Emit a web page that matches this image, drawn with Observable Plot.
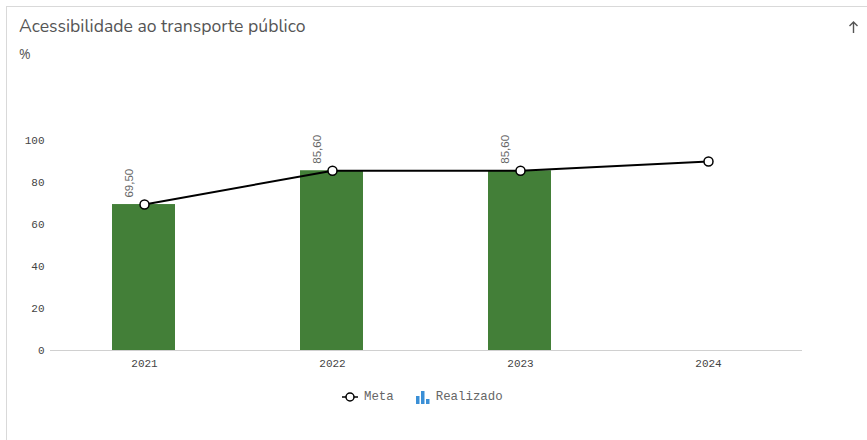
<!DOCTYPE html>
<html>
<head>
<meta charset="utf-8">
<script src="https://cdn.jsdelivr.net/npm/d3@7"></script>
<script src="https://cdn.jsdelivr.net/npm/@observablehq/plot@0.6"></script>
<style>
  html, body { margin: 0; padding: 0; background: #fff; width: 867px; height: 440px; overflow: hidden; }
  #card { position: absolute; left: 6px; top: 6px; width: 900px; height: 500px; border: 1px solid #d9d9d9; box-sizing: border-box; }
  #title { position: absolute; left: 19px; top: 14px; font-family: "Nunito", "Open Sans", sans-serif; font-size: 17.6px; color: #555; }
  #unit { position: absolute; left: 19px; top: 44px; font-family: "Open Sans", sans-serif; font-size: 14px; color: #555; }
  #arrow { position: absolute; left: 848px; top: 20px; }
  #chart { position: absolute; left: 0; top: 120px; }
  #legend { position: absolute; top: 390px; left: 342px; font-family: "Liberation Mono", monospace; font-size: 12.4px; color: #666; display: flex; align-items: center; }
  #legend .item { display: flex; align-items: center; margin-right: 22px; }
  #legend svg { margin-right: 6px; }
</style>
</head>
<body>
<div id="card"></div>
<div id="title">Acessibilidade ao transporte público</div>
<div id="unit">%</div>
<svg id="arrow" width="11" height="14"><path d="M5.5 2 V13 M1.5 6 L5.5 2 L9.5 6" fill="none" stroke="#555" stroke-width="1.4"/></svg>
<div id="chart"></div>
<div id="legend">
  <div class="item"><svg width="16" height="12"><line x1="0" y1="6" x2="16" y2="6" stroke="#000" stroke-width="1.5"/><circle cx="8" cy="6" r="4" fill="#fff" stroke="#000" stroke-width="1.5"/></svg>Meta</div>
  <div class="item"><svg width="14" height="14"><rect x="0" y="6" width="3.5" height="8" fill="#3a8fd6"/><rect x="5" y="1" width="3.5" height="13" fill="#3a8fd6"/><rect x="10" y="9" width="3.5" height="5" fill="#3a8fd6"/></svg>Realizado</div>
</div>
<script>
const years = ["2021", "2022", "2023", "2024"];
const meta = [69.5, 85.6, 85.6, 90];
const realizado = [69.5, 85.6, 85.6, null];
const yTicks = [0, 20, 40, 60, 80, 100];

const metaData = years.map((y, i) => ({year: y, value: meta[i]}));
const realData = years.map((y, i) => ({year: y, value: realizado[i]})).filter(d => d.value != null);
const fmt = v => v.toFixed(2).replace(".", ",");

const chart = Plot.plot({
  width: 867,
  height: 260,
  marginLeft: 50,
  marginRight: 65,
  marginTop: 20,
  marginBottom: 30,
  style: {fontFamily: "Liberation Mono, monospace", fontSize: "11px", color: "#444", background: "transparent"},
  x: {type: "band", domain: years, padding: 0, label: null, tickSize: 0, tickPadding: 9},
  y: {domain: [0, 100], ticks: yTicks, label: null, tickSize: 0, tickPadding: 6},
  marks: [
    Plot.barY(realData, {x: "year", y: "value", fill: "#437f38", insetLeft: 62, insetRight: 63}),
    Plot.ruleY([0], {stroke: "#d0d0d0", strokeWidth: 1}),
    Plot.line(metaData, {x: "year", y: "value", stroke: "#000", strokeWidth: 2}),
    Plot.dot(metaData, {x: "year", y: "value", r: 4.5, fill: "#fff", stroke: "#000", strokeWidth: 1.5}),
    Plot.text(realData, {x: "year", y: "value", text: d => fmt(d.value), rotate: -90, textAnchor: "start", dx: -15, dy: -7, fill: "#666", fontFamily: "Liberation Sans, Arial, sans-serif", fontSize: 11.5})
  ]
});
document.getElementById("chart").appendChild(chart);
</script>
</body>
</html>
